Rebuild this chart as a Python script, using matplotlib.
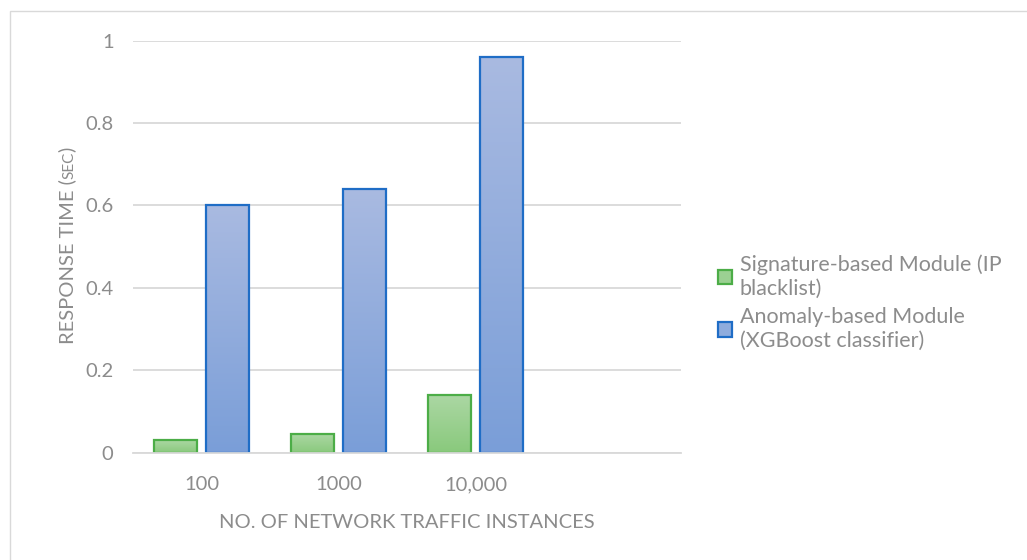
import numpy as np
import matplotlib
matplotlib.use("Agg")
import matplotlib.pyplot as plt
from matplotlib.patches import Patch, Rectangle
from matplotlib.colors import LinearSegmentedColormap

# ---- data -------------------------------------------------------------
categories = ["100", "1000", "10,000", ""]
signature_times = [0.03, 0.045, 0.14]
anomaly_times = [0.60, 0.64, 0.96]
y_ticks = [0, 0.2, 0.4, 0.6, 0.8, 1]
y_tick_labels = ["0", "0.2", "0.4", "0.6", "0.8", "1"]
series_names = ["Signature-based Module (IP\nblacklist)",
                "Anomaly-based Module\n(XGBoost classifier)"]

# ---- style --------------------------------------------------------------
W, H, DPI = 1027, 560, 100
TEXT = "#8c8c8c"
GRID = "#d9d9d9"
FS = 14.5
green = dict(edge="#4cad47", top="#abd7a3", bottom="#89c97c")
blue = dict(edge="#1f6dc6", top="#a9bae1", bottom="#7a9ed8")

plt.rcParams["font.family"] = ["Lato", "DejaVu Sans"]

fig = plt.figure(figsize=(W / DPI, H / DPI), dpi=DPI)
fig.patch.set_facecolor("white")

# chart frame
fig.patches.append(Rectangle((9.5 / W, -0.1), 1.2, 1.1 - 10.5 / H,
                             transform=fig.transFigure, fill=False,
                             edgecolor=GRID, linewidth=1.0))

ax = fig.add_axes([133 / W, 1 - 452.7 / H, 548 / W, 412 / H])

x = np.arange(len(categories))
bar_w = 0.314
offset = 0.19


def gradient_bars(xpos, values, style, zorder=3):
    bars = ax.bar(xpos, values, width=bar_w, facecolor="none",
                  edgecolor=style["edge"], linewidth=1.6, zorder=zorder + 1)
    cmap = LinearSegmentedColormap.from_list("g", [style["bottom"], style["top"]])
    grad = np.linspace(0, 1, 256).reshape(-1, 1)
    for b in bars:
        x0, y0 = b.get_x(), b.get_y()
        img = ax.imshow(grad, cmap=cmap, origin="lower", aspect="auto",
                        extent=[x0, x0 + b.get_width(), y0, y0 + b.get_height()],
                        zorder=zorder, interpolation="bilinear")
        img.set_clip_path(b)
    return bars


n = len(signature_times)
gradient_bars(x[:n] - offset, signature_times, green)
gradient_bars(x[:n] + offset, anomaly_times, blue)

ax.set_xlim(-0.5, len(categories) - 0.5)
ax.set_ylim(0, 1)
ax.set_xticks(x)
ax.set_xticklabels(categories)
ax.set_yticks(y_ticks)
ax.set_yticklabels(y_tick_labels)
ax.tick_params(length=0, labelsize=FS, labelcolor=TEXT)
ax.tick_params(axis="y", pad=14)
ax.tick_params(axis="x", pad=17)
ax.yaxis.grid(True, color=GRID, linewidth=1.3, zorder=0)
ax.set_axisbelow(True)
for s in ["top", "right", "left"]:
    ax.spines[s].set_visible(False)
ax.spines["bottom"].set_color(GRID)
ax.spines["bottom"].set_linewidth(1.3)
ax.spines["bottom"].set_zorder(6)

ax.set_xlabel("NO. OF NETWORK TRAFFIC INSTANCES", fontsize=FS, color=TEXT,
              labelpad=15)

# y-axis title with small-caps unit
fig.canvas.draw()
renderer = fig.canvas.get_renderer()
parts = [("RESPONSE TIME (", FS), ("SEC", 11), (")", FS)]
lengths = []
for s, fs in parts:
    t = fig.text(0, 0, s, fontsize=fs)
    lengths.append(t.get_window_extent(renderer).width)
    t.remove()
total = sum(lengths)
center_y = H - 245
y_cur = center_y - total / 2
base_x = 73
for (s, fs), L in zip(parts, lengths):
    fig.text(base_x / W, y_cur / H, s, fontsize=fs, color=TEXT, rotation=90,
             rotation_mode="anchor", ha="left", va="baseline")
    y_cur += L

handles = [Patch(facecolor="#9bd092", edgecolor=green["edge"], linewidth=1.6),
           Patch(facecolor="#8facdd", edgecolor=blue["edge"], linewidth=1.6)]
leg = ax.legend(handles, series_names, loc="upper left",
                bbox_to_anchor=(718 / W, 1 - 254 / H), bbox_transform=fig.transFigure,
                frameon=False, fontsize=15.5, labelcolor=TEXT,
                handlelength=0.65, handleheight=0.65, handletextpad=0.35,
                labelspacing=0.4, borderpad=0, borderaxespad=0)
for t in leg.get_texts():
    t.set_linespacing(1.25)

fig.savefig("out.png", dpi=DPI, facecolor="white")
